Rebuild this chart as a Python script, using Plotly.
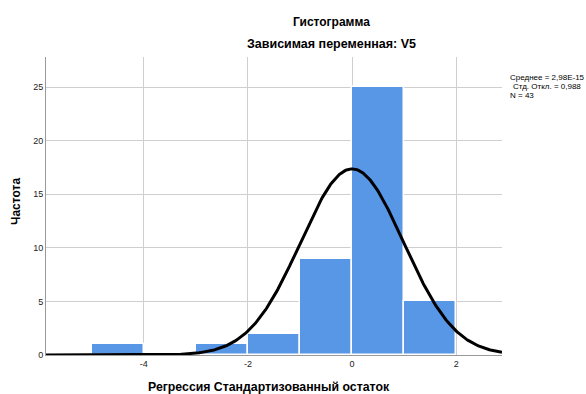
import numpy as np
import plotly.graph_objects as go

bin_left = [-5, -4, -3, -2, -1, 0, 1]
counts = [1, 0, 1, 2, 9, 25, 5]
bin_width = 1.0
mean = 2.98e-15
std = 0.988
n = 43
x_ticks = [-4, -2, 0, 2]
x_tick_labels = ["-4", "-2", "0", "2"]
y_ticks = [0, 5, 10, 15, 20, 25]
stats_lines = ["Среднее = 2,98E-15", "Стд. Откл. = 0,988", "N = 43"]

centers = [b + bin_width / 2 for b in bin_left]

x_min, x_max = -5.88, 2.88
xs = np.linspace(x_min, x_max, 400)
ys = n * bin_width * np.exp(-0.5 * ((xs - mean) / std) ** 2) / (std * np.sqrt(2 * np.pi))

W, H = 586, 394
L, R, T, B = 46, 84, 57, 39
pw, ph = W - L - R, H - T - B


def px(x):
    return (x - L) / pw


def py(y):
    return 1 - (y - T) / ph


fig = go.Figure()
fig.add_trace(go.Bar(x=centers, y=counts, width=bin_width,
                     marker=dict(color="#5896e6", line=dict(color="white", width=1.5)),
                     showlegend=False))
fig.add_trace(go.Scatter(x=xs, y=ys, mode="lines", line=dict(color="black", width=3),
                         showlegend=False))

font = "Liberation Sans, Arial, sans-serif"
ann = [
    dict(text="<b>Гистограмма</b>", x=px(331), y=py(22), font=dict(size=12)),
    dict(text="<b>Зависимая переменная: V5</b>", x=px(331), y=py(44), font=dict(size=12.5)),
    dict(text="<b>Регрессия Стандартизованный остаток</b>", x=px(269), y=py(387), font=dict(size=12.3)),
    dict(text="<b>Частота</b>", x=px(16), y=py(202), textangle=-90, font=dict(size=12)),
]
for i, (t, xx) in enumerate(zip(stats_lines, [508, 511, 508])):
    ann.append(dict(text=t, x=px(xx), y=py(77 + 9 * i), xanchor="left",
                    font=dict(size=8)))
for a in ann:
    a.update(xref="paper", yref="paper", showarrow=False)
    a.setdefault("xanchor", "center")
    a.setdefault("yanchor", "middle")

fig.update_layout(
    width=W, height=H,
    margin=dict(l=L, r=R, t=T, b=B, autoexpand=False),
    paper_bgcolor="white", plot_bgcolor="white",
    font=dict(family=font, color="black"),
    bargap=0,
    xaxis=dict(range=[x_min, x_max], tickvals=x_ticks, ticktext=x_tick_labels, ticks="",
               showgrid=True, gridcolor="#cfcfcf", gridwidth=1, zeroline=False, showline=True,
               linecolor="#9a9a9a", tickfont=dict(size=9, color="#222")),
    yaxis=dict(range=[0, 27.8], tickvals=y_ticks, showgrid=True,
               gridcolor="#cfcfcf", gridwidth=1, zeroline=False, showline=True,
               linecolor="#9a9a9a", tickfont=dict(size=9, color="#222"), ticks=""),
    annotations=ann,
)

fig.write_html("out.html", config={"displayModeBar": False},
               post_script="document.body.style.margin='0px';")
